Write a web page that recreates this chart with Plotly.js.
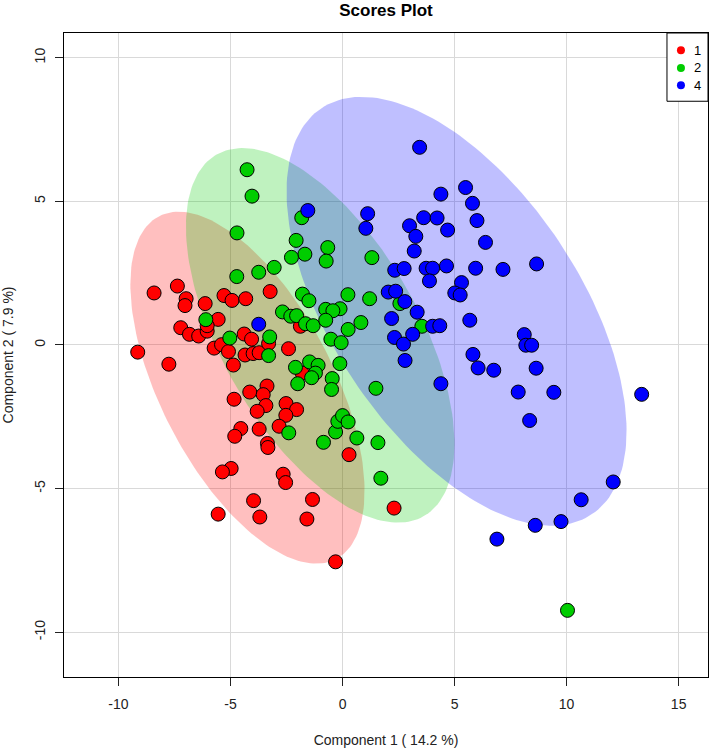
<!DOCTYPE html>
<html>
<head>
<meta charset="utf-8">
<script src="https://cdn.plot.ly/plotly-3.0.1.min.js"></script>
<style>html,body{margin:0;padding:0;background:#fff;}#chart{width:709px;height:748px;}</style>
</head>
<body>
<div id="chart"></div>
<script>
// ---- Data ----
const groupNames = ["1", "2", "4"];
const groupColors = ["#FF0000", "#00CD00", "#0000FF"];
const ellipseFills = ["rgba(255,0,0,0.25)", "rgba(0,205,0,0.25)", "rgba(0,0,255,0.25)"];

const g1x = [-8.41,-7.37,-6.98,-7.03,-6.13,-5.29,-4.93,-4.32,-3.23,-5.55,-7.22,-6.83,-6.42,-6.04,-6.04,-9.14,-7.75,-5.73,-5.40,-5.09,-4.87,-4.39,-4.06,-4.35,-3.99,-3.72,-3.30,-2.41,-1.88,-1.80,-3.37,-4.14,-3.54,-4.84,-3.42,-3.81,-2.52,-2.05,-2.53,-4.54,-3.72,-2.83,-4.81,-3.35,-3.33,-4.97,-5.36,-2.65,-2.54,-3.97,-1.34,-5.55,-3.69,-1.59,-0.31,0.29,2.30];
const g1y = [1.81,2.05,1.61,1.37,1.44,1.72,1.55,1.61,1.86,0.89,0.60,0.37,0.31,0.48,0.67,-0.25,-0.67,-0.11,0.01,-0.23,-0.70,0.38,0.20,-0.35,-0.30,-0.27,0.05,-0.13,0.65,-0.98,-1.43,-1.64,-1.73,-1.89,-2.11,-2.31,-2.04,-2.25,-2.45,-2.91,-2.93,-2.83,-3.18,-3.43,-3.57,-4.30,-4.42,-4.50,-4.79,-5.42,-5.38,-5.89,-5.99,-6.06,-7.55,-3.82,-5.68];

const g2x = [-4.26,-4.04,-4.71,-1.82,-2.07,-1.68,-2.28,-4.72,-3.74,-3.05,-1.79,-1.50,-2.68,-2.31,-2.05,-1.65,-1.31,-6.10,-5.03,-3.25,-3.30,-2.10,-1.47,-1.09,-1.21,-1.38,-2.00,-2.40,-0.85,-0.31,-0.21,-0.66,-0.73,1.31,0.24,1.21,-0.75,-0.11,-0.43,2.56,-0.75,0.25,0.82,-0.52,-0.06,3.54,-0.12,-0.46,-0.49,1.49,0.00,0.25,0.64,1.58,1.71,10.04];
const g2y = [6.10,5.18,3.90,4.43,3.64,3.16,3.05,2.38,2.53,2.70,1.77,1.54,1.15,1.00,1.02,0.74,0.67,0.88,0.24,0.28,-0.37,-0.78,-0.59,-0.71,-0.98,-1.14,-1.35,-3.06,-3.39,-3.03,-2.66,3.39,2.92,3.04,1.75,1.61,1.24,1.26,1.19,1.44,0.86,0.54,0.78,0.20,0.08,0.65,-0.65,-1.17,-1.55,-1.51,-2.46,-2.68,-3.24,-3.40,-4.64,-9.24];

const g4x = [3.44,4.39,5.49,5.80,6.00,6.38,-1.55,1.12,1.04,2.99,3.62,4.22,4.69,3.27,3.20,2.33,2.75,3.73,4.02,3.88,4.64,5.94,7.16,5.31,5.01,5.25,2.04,2.37,2.78,3.33,2.19,4.02,4.34,2.32,2.72,3.13,2.79,4.39,5.68,5.82,6.05,6.75,8.66,8.11,8.18,8.44,8.64,7.84,9.43,8.35,13.35,12.08,10.65,9.75,8.60,6.89,-3.74];
const g4y = [6.88,5.25,5.48,4.93,4.33,3.57,4.68,4.57,4.06,4.15,4.43,4.42,4.00,3.78,3.27,2.60,2.66,2.67,2.67,2.23,2.75,2.67,2.63,2.17,1.81,1.74,1.84,1.87,1.51,1.14,0.92,0.65,0.67,0.26,0.03,0.37,-0.54,-1.35,0.86,-0.33,-0.80,-0.88,2.82,0.36,-0.01,-0.01,-0.81,-1.64,-1.65,-2.63,-1.72,-4.77,-5.39,-6.15,-6.28,-6.76,0.72];

const xTickVals = [-10, -5, 0, 5, 10, 15];
const yTickVals = [-10, -5, 0, 5, 10];
const xTitle = "Component 1 ( 14.2 %)";
const yTitle = "Component 2 ( 7.9 %)";
const chartTitle = "Scores Plot";

const groupsX = [g1x, g2x, g4x];
const groupsY = [g1y, g2y, g4y];

// 95% confidence ellipse (as R's ellipse::ellipse with level 0.95)
function ellipsePath(xs, ys) {
  const n = xs.length;
  const mx = xs.reduce((a, b) => a + b, 0) / n;
  const my = ys.reduce((a, b) => a + b, 0) / n;
  let sxx = 0, syy = 0, sxy = 0;
  for (let i = 0; i < n; i++) {
    sxx += (xs[i] - mx) ** 2;
    syy += (ys[i] - my) ** 2;
    sxy += (xs[i] - mx) * (ys[i] - my);
  }
  sxx /= (n - 1); syy /= (n - 1); sxy /= (n - 1);
  const sx = Math.sqrt(sxx), sy = Math.sqrt(syy);
  const r = sxy / (sx * sy);
  const d = Math.acos(r);
  const t = Math.sqrt(5.991464547);
  const ex = [], ey = [];
  for (let k = 0; k <= 200; k++) {
    const a = (k / 200) * 2 * Math.PI;
    ex.push(mx + t * sx * Math.cos(a + d / 2));
    ey.push(my + t * sy * Math.cos(a - d / 2));
  }
  return {ex, ey};
}

const traces = [];
for (let g = 0; g < 3; g++) {
  const e = ellipsePath(groupsX[g], groupsY[g]);
  traces.push({
    x: e.ex, y: e.ey, type: "scatter", mode: "lines",
    fill: "toself", fillcolor: ellipseFills[g],
    line: {width: 0, color: "rgba(0,0,0,0)"},
    hoverinfo: "skip", showlegend: false
  });
}
for (let g = 0; g < 3; g++) {
  traces.push({
    x: groupsX[g], y: groupsY[g], type: "scatter", mode: "markers",
    marker: {size: 14, color: groupColors[g], line: {color: "#000", width: 1}},
    showlegend: false, name: groupNames[g]
  });
}

// ---- Legend box (top-right, inside the plot frame) ----
const legX0 = 0.9363, legX1 = 1.0, legY0 = 0.894, legY1 = 1.0;
const legRowY = [0.9731, 0.9457, 0.9188];
const legDotX = 0.958, legTextX = 0.9837;
const shapes = [{
  type: "rect", xref: "paper", yref: "paper",
  x0: legX0, x1: legX1, y0: legY0, y1: legY1,
  line: {color: "#000", width: 1}, fillcolor: "#fff", layer: "above"
}];
const annotations = [];
for (let g = 0; g < 3; g++) {
  shapes.push({
    type: "circle", xref: "paper", yref: "paper",
    xsizemode: "pixel", ysizemode: "pixel",
    xanchor: legDotX, yanchor: legRowY[g],
    x0: -4, x1: 4, y0: -4, y1: 4,
    fillcolor: groupColors[g], line: {width: 0}, layer: "above"
  });
  annotations.push({
    xref: "paper", yref: "paper", x: legTextX, y: legRowY[g],
    xanchor: "center", yanchor: "middle", showarrow: false,
    text: groupNames[g], font: {size: 13, color: "#000"}
  });
}

const fontFam = "Liberation Sans, Arial, Helvetica, sans-serif";
const layout = {
  width: 709, height: 748,
  margin: {l: 64, r: 1, t: 33, b: 71, pad: 0},
  paper_bgcolor: "#fff", plot_bgcolor: "#fff",
  font: {family: fontFam, size: 14, color: "#222"},
  title: {text: "<b>" + chartTitle + "</b>", font: {size: 17, color: "#000", family: fontFam},
          x: 0.5, xref: "paper", y: 0.9870, yref: "container", yanchor: "middle"},
  xaxis: {
    range: [-12.43, 16.31], tickvals: xTickVals, ticktext: xTickVals.map(String),
    showgrid: true, gridcolor: "#d9d9d9", gridwidth: 1, zeroline: false,
    showline: true, mirror: true, linecolor: "#000", linewidth: 1,
    ticks: "outside", ticklen: 8, tickcolor: "#222", tickwidth: 1,
    ticklabelstandoff: 6,
    title: {text: xTitle, font: {size: 14, color: "#222"}, standoff: 26}
  },
  yaxis: {
    range: [-11.56, 10.86], tickvals: yTickVals, ticktext: yTickVals.map(String),
    showgrid: true, gridcolor: "#d9d9d9", gridwidth: 1, zeroline: false,
    showline: true, mirror: true, linecolor: "#000", linewidth: 1,
    ticks: "outside", ticklen: 8, tickcolor: "#222", tickwidth: 1,
    tickangle: -90, ticklabelstandoff: 4,
    title: {text: yTitle, font: {size: 14, color: "#222"}, standoff: 16}
  },
  shapes: shapes,
  annotations: annotations,
  showlegend: false
};

Plotly.newPlot("chart", traces, layout, {displayModeBar: false, staticPlot: true});
</script>
</body>
</html>
